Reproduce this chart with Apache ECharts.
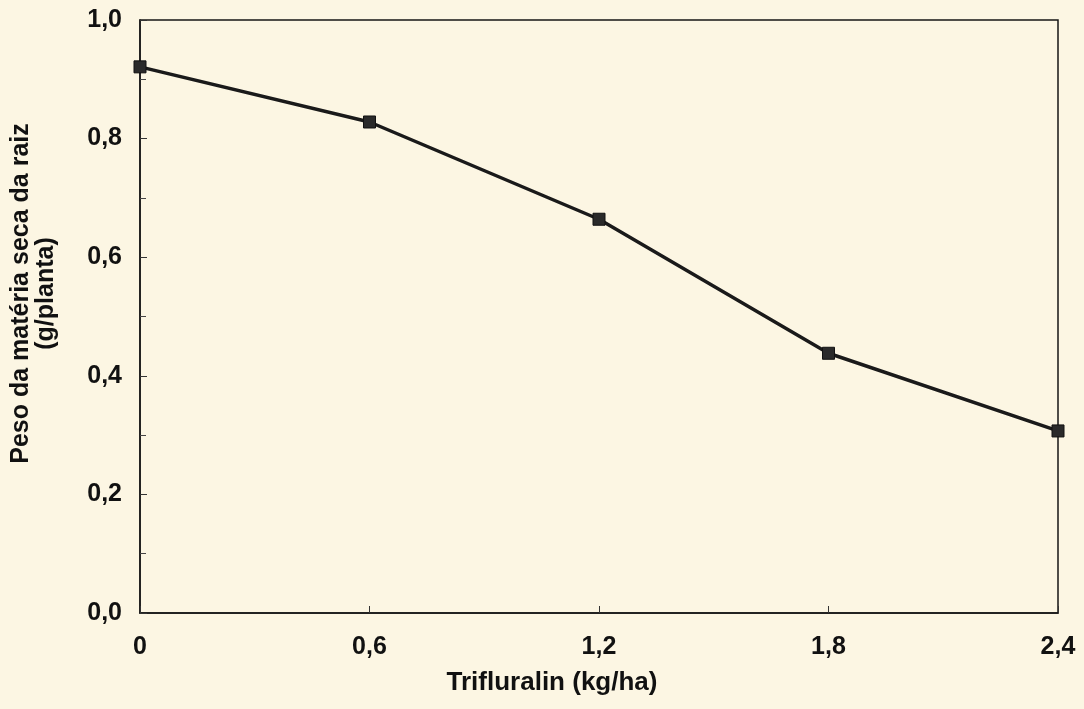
<!DOCTYPE html>
<html>
<head>
<meta charset="utf-8">
<script src="https://cdn.jsdelivr.net/npm/echarts@6/dist/echarts.min.js"></script>
<style>
  html, body { margin: 0; padding: 0; background: #fcf6e3; }
  #chart { width: 1084px; height: 709px; }
</style>
</head>
<body>
<div id="chart"></div>
<script>
// dose de trifluralin (kg/ha)
const doses = [0, 0.6, 1.2, 1.8, 2.4];
// peso da matéria seca da raiz (g/planta)
const pesoRaiz = [0.921, 0.828, 0.664, 0.438, 0.307];

const virgula = function (v) {
  if (v === 0) return '0';
  return v.toFixed(1).replace('.', ',');
};

const fonte = { fontFamily: 'Liberation Sans', fontWeight: 'bold', fontSize: 25, color: '#111' };

const chart = echarts.init(document.getElementById('chart'));
chart.setOption({
  backgroundColor: '#fcf6e3',
  animation: false,
  grid: {
    left: 140, right: 26, top: 20, bottom: 96,
    outerBoundsMode: 'none',
    containLabel: false,
    show: true, borderColor: '#161616', borderWidth: 1.5,
    backgroundColor: 'transparent'
  },
  xAxis: {
    type: 'value',
    min: 0, max: 2.4, interval: 0.6,
    name: 'Trifluralin (kg/ha)',
    nameLocation: 'middle',
    nameGap: 57,
    nameTextStyle: Object.assign({}, fonte, { fontSize: 26, padding: [0, 94, 0, 0] }),
    axisLine: { lineStyle: { color: '#161616', width: 1.5 } },
    axisTick: { inside: true, length: 7, lineStyle: { color: '#333' } },
    axisLabel: Object.assign({ margin: 22, formatter: virgula }, fonte),
    splitLine: { show: false }
  },
  yAxis: {
    type: 'value',
    min: 0, max: 1, interval: 0.2,
    name: 'Peso da matéria seca da raiz\n(g/planta)',
    nameLocation: 'middle',
    nameGap: 81,
    nameTextStyle: Object.assign({}, fonte, { fontSize: 25, lineHeight: 25, padding: [0, 0, 0, 46] }),
    axisLine: { show: true, lineStyle: { color: '#161616', width: 1.5 } },
    axisTick: { inside: true, length: 7, lineStyle: { color: '#333' } },
    minorTick: { show: true, splitNumber: 2, length: 6, lineStyle: { color: '#444' } },
    axisLabel: Object.assign({
      margin: 18,
      formatter: function (v) { return v.toFixed(1).replace('.', ','); }
    }, fonte),
    splitLine: { show: false }
  },
  series: [{
    type: 'line',
    data: doses.map((d, i) => [d, pesoRaiz[i]]),
    symbol: 'rect',
    symbolSize: 12,
    lineStyle: { color: '#1a1a1a', width: 3.5 },
    itemStyle: { color: '#2a2a2a', borderColor: '#111', borderWidth: 1 }
  }]
});
</script>
</body>
</html>
